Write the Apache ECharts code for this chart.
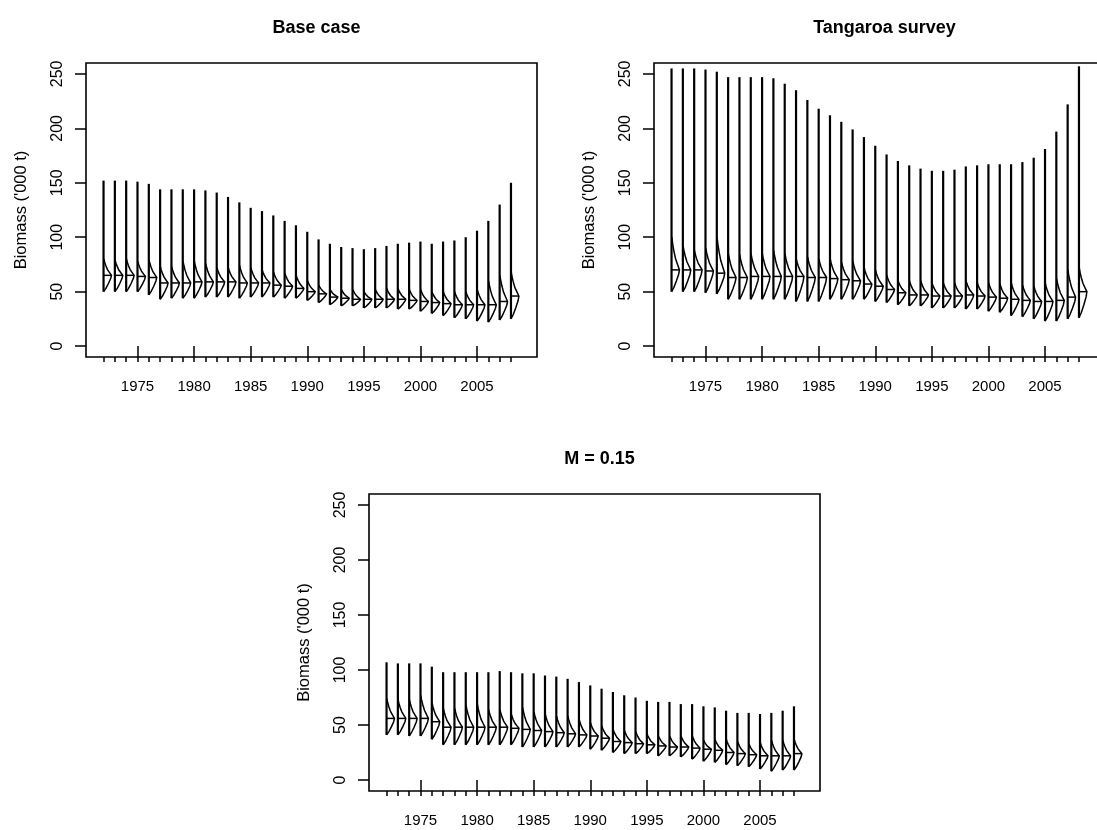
<!DOCTYPE html>
<html>
<head>
<meta charset="utf-8">
<script src="https://cdn.jsdelivr.net/npm/echarts@6/dist/echarts.min.js"></script>
<style>
  html, body { margin: 0; padding: 0; background: #fff; }
  #main { width: 1097px; height: 830px; }
</style>
</head>
<body>
<div id="main"></div>
<script>
var years = [1972, 1973, 1974, 1975, 1976, 1977, 1978, 1979, 1980, 1981, 1982, 1983, 1984,
  1985, 1986, 1987, 1988, 1989, 1990, 1991, 1992, 1993, 1994, 1995, 1996, 1997, 1998,
  1999, 2000, 2001, 2002, 2003, 2004, 2005, 2006, 2007, 2008];
var labelYears = [1975, 1980, 1985, 1990, 1995, 2000, 2005];
var biomassTicks = [0, 50, 100, 150, 200, 250];

// Base case: min, median, top of main body, max ('000 t)
var baseMin = [50, 50, 50, 50, 47, 43, 44, 44, 44, 45, 45, 45, 44, 45, 45, 45, 44, 44, 42, 40, 38, 37, 37,
  35, 35, 35, 34, 34, 32, 30, 28, 26, 25, 23, 22, 24, 25];
var baseMed = [65, 65, 65, 64, 63, 58, 58, 58, 59, 59, 59, 59, 58, 58, 58, 56, 55, 53, 50, 48, 45, 44, 43,
  43, 43, 43, 43, 42, 41, 40, 39, 38, 38, 38, 38, 41, 46];
var baseHi = [80, 79, 80, 78, 79, 73, 73, 78, 78, 76, 72, 72, 74, 72, 70, 68, 67, 65, 60, 56, 52, 52, 52,
  50, 52, 53, 53, 52, 52, 50, 50, 50, 50, 52, 60, 65, 68];
var baseMax = [152, 152, 152, 151, 149, 144, 144, 144, 144, 143, 141, 137, 132, 127, 124, 120, 115, 111,
  105, 98, 94, 91, 90, 89, 90, 92, 94, 95, 96, 94, 96, 97, 100, 106, 115, 130, 150];

// Tangaroa survey
var tanMin = [50, 50, 50, 49, 48, 43, 43, 43, 43, 43, 43, 41, 41, 41, 43, 43, 43, 43, 41, 40, 38, 37, 37,
  35, 35, 35, 34, 34, 32, 31, 28, 27, 25, 23, 23, 25, 26];
var tanMed = [70, 70, 70, 69, 67, 63, 63, 64, 64, 64, 64, 64, 63, 63, 62, 61, 60, 57, 55, 52, 49, 47, 47,
  46, 46, 46, 47, 46, 45, 44, 43, 42, 41, 41, 42, 45, 50];
var tanHi = [100, 92, 88, 90, 100, 85, 84, 85, 85, 88, 85, 80, 82, 80, 80, 77, 78, 72, 70, 65, 60, 60, 60,
  58, 58, 58, 60, 58, 58, 57, 58, 56, 55, 58, 62, 70, 72];
var tanMax = [255, 255, 255, 254, 252, 247, 247, 247, 247, 246, 241, 235, 226, 218, 212, 206, 199, 192,
  184, 176, 170, 166, 163, 161, 161, 162, 165, 166, 167, 167, 167, 169, 173, 181, 197, 222, 257];

// M = 0.15
var m15Min = [41, 41, 40, 40, 37, 32, 32, 32, 32, 32, 32, 32, 30, 30, 30, 30, 30, 30, 28, 27, 25, 24, 24,
  24, 22, 22, 21, 19, 17, 16, 14, 13, 12, 10, 8, 9, 9];
var m15Med = [56, 56, 56, 56, 53, 48, 48, 48, 48, 48, 48, 47, 46, 45, 44, 43, 42, 41, 40, 38, 35, 34, 33,
  32, 31, 30, 30, 29, 28, 27, 25, 24, 23, 22, 22, 22, 24];
var m15Hi = [74, 73, 73, 77, 70, 65, 65, 68, 69, 64, 64, 60, 66, 62, 60, 58, 58, 55, 52, 49, 46, 45, 44,
  42, 40, 40, 40, 40, 36, 37, 37, 35, 33, 34, 36, 36, 37];
var m15Max = [107, 106, 106, 106, 103, 98, 98, 98, 98, 98, 99, 98, 97, 97, 95, 94, 92, 89, 86, 83, 80, 77,
  75, 72, 71, 71, 69, 69, 67, 66, 63, 61, 61, 60, 61, 63, 67];

// outline of the half violins
// [share of the way from min to median, width as share of the peak]
var lowShape = [[0, 0], [0.2, 0.3], [0.5, 0.62], [0.8, 0.9], [1, 1]];
// [share of the way from median to top of body, width as share of the peak]
var upShape = [[0, 1], [0.15, 0.78], [0.35, 0.5], [0.6, 0.28], [0.8, 0.14], [1, 0.03]];

var FONT = "'Liberation Sans', Arial, Helvetica, sans-serif";
var peakW = 0.7; // widest part of a violin, in years

function rows(mins, meds, his, maxs) {
  return years.map(function (y, i) {
    return [y, mins[i], meds[i], his[i], maxs[i]];
  });
}

function renderViolin(params, api) {
  var yr = api.value(0), lo = api.value(1), med = api.value(2), hi = api.value(3), top = api.value(4);
  var pts = [];
  lowShape.forEach(function (s) {
    pts.push(api.coord([yr + s[1] * peakW, lo + s[0] * (med - lo)]));
  });
  upShape.forEach(function (s) {
    pts.push(api.coord([yr + s[1] * peakW, med + s[0] * (hi - med)]));
  });
  var a = api.coord([yr, lo]);
  var b = api.coord([yr, top]);
  var m0 = api.coord([yr, med]);
  var m1 = api.coord([yr + peakW, med]);
  return {
    type: "group",
    children: [
      { type: "line", shape: { x1: a[0], y1: a[1], x2: b[0], y2: b[1] }, style: { stroke: "#000", lineWidth: 2.2 } },
      { type: "polyline", shape: { points: pts }, style: { stroke: "#000", fill: null, lineWidth: 1.5 } },
      { type: "line", shape: { x1: m0[0], y1: m0[1], x2: m1[0], y2: m1[1] }, style: { stroke: "#000", lineWidth: 1.5 } }
    ]
  };
}

var panels = [
  { title: "Base case", data: rows(baseMin, baseMed, baseHi, baseMax), left: 86, top: 63, height: 294 },
  { title: "Tangaroa survey", data: rows(tanMin, tanMed, tanHi, tanMax), left: 654, top: 63, height: 294 },
  { title: "M = 0.15", data: rows(m15Min, m15Med, m15Hi, m15Max), left: 369, top: 494, height: 297 }
];
var gridW = 451;

var option = { animation: false, backgroundColor: "#fff", title: [], grid: [], xAxis: [], yAxis: [], series: [] };

panels.forEach(function (p, i) {
  option.title.push({
    text: p.title,
    left: p.left + gridW / 2,
    top: p.top - 49,
    textAlign: "center",
    textStyle: { fontFamily: FONT, fontSize: 18, fontWeight: "bold", color: "#000" }
  });
  option.grid.push({
    left: p.left, top: p.top, width: gridW, height: p.height,
    show: true, borderColor: "#000", borderWidth: 1.6, outerBoundsMode: "none"
  });
  // labelled years, long ticks
  option.xAxis.push({
    type: "value", gridIndex: i, min: 1970.45, max: 2010.3, position: "bottom",
    axisLine: { show: false }, splitLine: { show: false },
    axisTick: { show: true, customValues: labelYears, length: 11, lineStyle: { color: "#000", width: 1.5 } },
    axisLabel: {
      customValues: labelYears, margin: 22, color: "#000", fontSize: 15, fontFamily: FONT,
      formatter: function (v) { return String(v); }
    }
  });
  // every year, short ticks
  option.xAxis.push({
    type: "value", gridIndex: i, min: 1970.45, max: 2010.3, position: "bottom",
    axisLine: { show: false }, splitLine: { show: false },
    axisTick: { show: true, customValues: years, length: 5, lineStyle: { color: "#000", width: 1.5 } },
    axisLabel: { show: false }
  });
  option.yAxis.push({
    type: "value", gridIndex: i, min: -10, max: 260,
    axisLine: { show: false }, splitLine: { show: false },
    axisTick: { show: true, customValues: biomassTicks, length: 11, lineStyle: { color: "#000", width: 1.5 } },
    axisLabel: { customValues: biomassTicks, rotate: 90, margin: 20, color: "#000", fontSize: 16, fontFamily: FONT },
    name: "Biomass ('000 t)", nameLocation: "middle", nameGap: 56, nameRotate: 90,
    nameTextStyle: { color: "#000", fontSize: 16.5, fontFamily: FONT }
  });
  option.series.push({
    type: "custom", xAxisIndex: i * 2, yAxisIndex: i,
    renderItem: renderViolin, data: p.data, clip: false
  });
});

var chart = echarts.init(document.getElementById("main"));
chart.setOption(option);
</script>
</body>
</html>
